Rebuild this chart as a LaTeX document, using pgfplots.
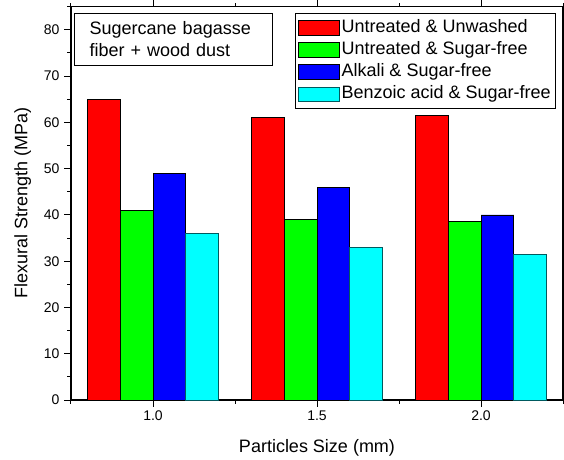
\documentclass[border=0pt]{standalone}
\usepackage{fontspec}
\setmainfont{Liberation Sans}
\usepackage{pgfplots}
\pgfplotsset{compat=1.18}
\usetikzlibrary{calc}
\definecolor{teal2}{RGB}{0,90,95}
\definecolor{cyanF}{RGB}{0,255,255}
\definecolor{greenF}{RGB}{0,255,0}
\definecolor{redF}{RGB}{255,0,0}
\definecolor{blueF}{RGB}{0,0,255}
\begin{document}
\begin{tikzpicture}
\begin{axis}[
  scale only axis,
  width=492pt, height=393.3pt,
  xmin=0.75, xmax=2.25, ymin=0, ymax=85,
  xtick={1.0,1.5,2.0},
  xticklabels={1.0,1.5,2.0},
  minor xtick={0.75,1.25,1.75,2.25},
  ytick={0,10,20,30,40,50,60,70,80},
  minor ytick={5,15,25,35,45,55,65,75,85},
  xtick pos=both, ytick pos=left,
  tick align=outside,
  major tick length=6.5pt, minor tick length=3.5pt,
  axis line style={line width=1.2pt},
  every tick/.style={line width=1pt, black},
  /pgf/number format/assume math mode=true,
  ticklabel style={font=\fontsize{14}{16}\selectfont},
  xticklabel style={yshift=-1pt},
  yticklabel style={xshift=-1.5pt},
  label style={font=\fontsize{18}{21}\selectfont},
  xlabel={Particles Size (mm)},
  ylabel={Flexural Strength (MPa)},
  xlabel style={at={(axis description cs:0.5,-0.1322)}, anchor=base},
  ylabel style={at={(axis description cs:-0.0888,0.5)}, anchor=base},
  /pgfplots/ybar legend/.style={/pgfplots/legend image code/.code={\draw[##1, line width=0.8pt] (0pt,-7.3pt) rectangle (40.7pt,7.3pt);}},
  ybar, bar width=0.1,
  legend cell align=left,
  legend style={at={(0.9858,0.9847)}, anchor=north east, draw=black, line width=0.8pt,
    inner xsep=3pt, inner ysep=3.4pt, row sep=0pt,
    font=\fontsize{18}{21}\selectfont,
    nodes={inner xsep=2pt, inner ysep=2pt, text height=13.5pt, text depth=4.7pt}},
]
\addplot[fill=redF, draw=black, line width=0.7pt, bar shift=-0.15] coordinates {(1.0,65) (1.5,61) (2.0,61.5)};
\addplot[fill=greenF, draw=black, line width=0.7pt, bar shift=-0.05] coordinates {(1.0,41) (1.5,39) (2.0,38.6)};
\addplot[fill=blueF, draw=black, line width=0.7pt, bar shift=0.05] coordinates {(1.0,49) (1.5,46) (2.0,40)};
\addplot[fill=cyanF, draw=teal2, line width=0.7pt, bar shift=0.15] coordinates {(1.0,36) (1.5,33) (2.0,31.5)};
\legend{Untreated \& Unwashed, Untreated \& Sugar-free, Alkali \& Sugar-free, Benzoic acid \& Sugar-free}
\end{axis}
\node[draw=black, line width=0.8pt, anchor=north west, align=left, text width=167.7pt,
  inner xsep=15.3pt, minimum width=198.3pt, minimum height=51.7pt,
  font=\fontsize{18}{22}\selectfont, xshift=3pt, yshift=-6.6pt]
  at (current axis.north west) {Sugercane bagasse\\fiber + wood dust};
\pgfresetboundingbox
\path[use as bounding box] ($(current axis.south west)+(-71pt,-59pt)$) rectangle ++(564pt,459pt);
\end{tikzpicture}
\end{document}
